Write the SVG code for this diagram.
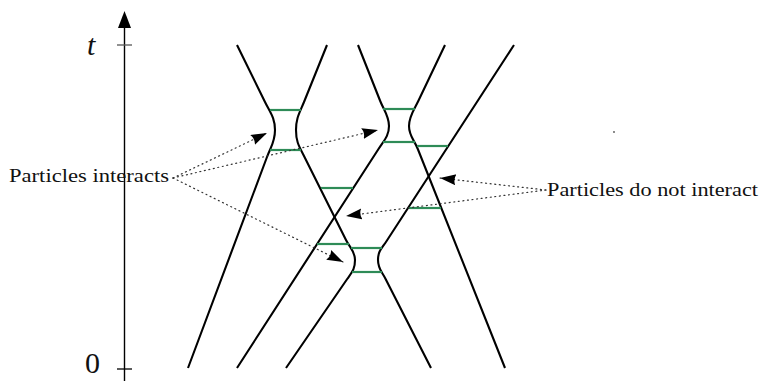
<svg xmlns="http://www.w3.org/2000/svg" width="760" height="381" viewBox="0 0 760 381">
<style>
.wl{fill:none;stroke:#000;stroke-width:2.1;stroke-linejoin:round}
.gr{stroke:#2e8b57;stroke-width:2.2}
.ax{stroke:#000;stroke-width:1.4;fill:none}
.dot{fill:none;stroke:#333;stroke-width:1.2;stroke-dasharray:1 3.6;stroke-linecap:round}
.lbl{font-family:"Liberation Serif","Times New Roman",serif;font-size:19px;fill:#111}
.big{font-family:"Liberation Serif","Times New Roman",serif;font-size:30px;fill:#111}
</style>
<defs>
<marker id="ah" markerUnits="userSpaceOnUse" markerWidth="18" markerHeight="13" refX="16" refY="5.5" orient="auto">
<path d="M0,0 Q3,5.5 0,11 L16,5.5 Z" fill="#000"/>
</marker>
</defs>
<rect width="760" height="381" fill="#fff"/>
<g id="axis">
<line class="ax" x1="124.5" y1="381" x2="124.5" y2="26"/>
<polygon points="124.5,11 118,28 131,28" fill="#000"/>
<line x1="117" y1="45" x2="132" y2="45" stroke="#555" stroke-width="1.3"/>
<line x1="117" y1="369" x2="132" y2="369" stroke="#000" stroke-width="1.3"/>
<text class="big" x="87" y="55" font-style="italic">t</text>
<text class="big" x="85" y="373">0</text>
</g>
<g id="worldlines">
<path id="L1" class="wl" d="M237,45 L265,102 C270.3,112.8 275,118 275,130 C275,142 271.2,145.8 267,157 L188,368"/>
<path id="R1" class="wl" d="M327,45 L304,102 C299.5,113.1 296,118 296,130 C296,142 299.1,146.3 304.5,157 L346,240 C350,248 355,251 355,260 C355,269 352.3,271.6 347.2,279 L286,368"/>
<path id="L2" class="wl" d="M358,45 L380.2,101 C383.9,110.3 389,116 389,126 C389,136 383.9,140.6 378.5,149 L237,368"/>
<path id="R2" class="wl" d="M445,45 L418.3,101 C414,110 409,116 409,126 C409,136 414.1,139.7 417.8,149 L505,368"/>
<path id="R3" class="wl" d="M514,45 L386.6,241 C381.7,248.5 378,251 378,260 C378,269 381.5,271 385.6,279 L431,368"/>
</g>
<g id="snapshots">
<line class="gr" x1="270" y1="110" x2="301" y2="110"/>
<line class="gr" x1="270" y1="150" x2="301" y2="150"/>
<line class="gr" x1="383" y1="109" x2="415" y2="109"/>
<line class="gr" x1="383" y1="142" x2="415" y2="142"/>
<line class="gr" x1="417" y1="146" x2="448" y2="146"/>
<line class="gr" x1="321" y1="188" x2="353" y2="188"/>
<line class="gr" x1="409" y1="208" x2="441" y2="208"/>
<line class="gr" x1="317" y1="244" x2="349" y2="244"/>
<line class="gr" x1="351" y1="248" x2="382" y2="248"/>
<line class="gr" x1="352" y1="272" x2="382" y2="272"/>
</g>
<g id="label-interacts">
<text class="lbl" x="9" y="182" textLength="160" lengthAdjust="spacingAndGlyphs">Particles interacts</text>
</g>
<g id="label-not-interact">
<text class="lbl" x="547" y="196" textLength="211" lengthAdjust="spacingAndGlyphs">Particles do not interact</text>
</g>
<g id="connectors">
<path class="dot" d="M173,178 L267,133" marker-end="url(#ah)"/>
<path class="dot" d="M173,178 L378,130" marker-end="url(#ah)"/>
<path class="dot" d="M173,178 L343,262" marker-end="url(#ah)"/>
<path class="dot" d="M546,190 L440,178" marker-end="url(#ah)"/>
<path class="dot" d="M546,190 L346,216" marker-end="url(#ah)"/>
</g>
<circle cx="614" cy="132" r="0.9" fill="#555"/>
</svg>
